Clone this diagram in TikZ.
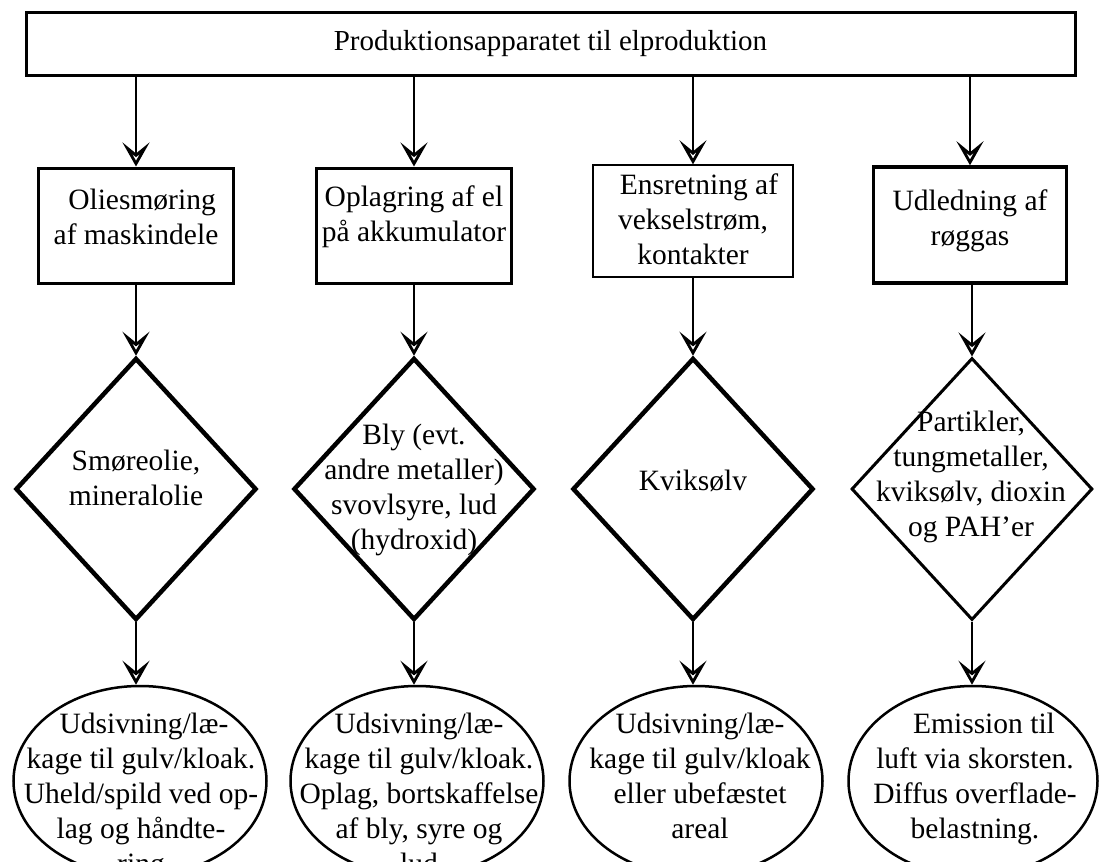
\documentclass[tikz,border=0pt]{standalone}
\usepackage{fontspec}
\setmainfont{Liberation Serif}
\usetikzlibrary{arrows.meta,shapes.geometric}
\begin{document}
\begin{tikzpicture}[x=1pt,y=-1pt,
  txt/.style={font=\fontsize{29.5}{35}\selectfont, align=center, inner sep=0pt},
  headbox/.style={draw, line width=3pt, minimum width=1049pt, minimum height=63pt, inner sep=0pt},
  procbox/.style={draw, line width=3pt, minimum width=195pt, minimum height=115pt, inner sep=0pt},
  thinbox/.style={draw, line width=1.3pt, minimum width=200pt, minimum height=112pt, inner sep=0pt},
  subst/.style={draw, diamond, line width=4.5pt, minimum width=241pt, minimum height=262pt, inner sep=0pt},
  effect/.style={draw, ellipse, line width=2.5pt, minimum width=253pt, minimum height=190pt, inner sep=0pt},
  flow/.style={line width=1.5pt, -{Stealth[open, length=24pt, width=27pt, inset=11pt, line width=2.8pt]}}
]
\useasboundingbox (0,0) rectangle (1101,862);

% top: the plant as a whole
\node[headbox, txt, font=\fontsize{29}{33}\selectfont] (top) at (550.5,43.5) {Produktionsapparatet til elproduktion};

% processes
\node[procbox] (b1) at (136,225.5) {};
\node[procbox] (b2) at (414,225.5) {};
\node[thinbox] (b3) at (693,221) {};
\node[procbox, line width=3.5pt, minimum height=116pt, minimum width=193pt] (b4) at (970,225) {};
\node[txt] (b1t) at (136,217) {\hspace*{12pt}Oliesmøring\\af maskindele};
\node[txt] (b2t) at (414,217) {Oplagring af el\\på akkumulator};
\node[txt] (b3t) at (693,219) {\hspace*{12pt}Ensretning af\\vekselstrøm,\\kontakter};
\node[txt] (b4t) at (970,221) {Udledning af\\røggas};

% substances
\node[subst] (d1) at (136,489) {};
\node[subst] (d2) at (414,489) {};
\node[subst] (d3) at (693,489) {};
\node[subst, line width=3pt] (d4) at (972,489) {};
\node[txt] (d1t) at (136,478) {Smøreolie,\\mineralolie};
\node[txt] (d2t) at (414,490) {Bly (evt.\\andre metaller)\\svovlsyre, lud\\(hydroxid)};
\node[txt] (d3t) at (693,481) {Kviksølv};
\node[txt] (d4t) at (971,477) {Partikler,\\tungmetaller,\\kviksølv, dioxin\\og PAH’er};

% pathways to the environment
\node[effect] (e1) at (140,781) {};
\node[effect] (e2) at (417,781) {};
\node[effect] (e3) at (696,781) {};
\node[effect, minimum width=249pt] (e4) at (973,781) {};
\node[txt, anchor=north] (e1t) at (141,713) {\hspace*{6pt}Udsivning/læ-\\kage til gulv/kloak.\\Uheld/spild ved op-\\lag og håndte-\\ring};
\node[txt, anchor=north] (e2t) at (419,713) {Udsivning/læ-\\kage til gulv/kloak.\\Oplag, bortskaffelse\\af bly, syre og\\lud};
\node[txt, anchor=north] (e3t) at (700,713) {Udsivning/læ-\\kage til gulv/kloak\\eller ubefæstet\\areal};
\node[txt, anchor=north] (e4t) at (975,713) {\hspace*{18pt}Emission til\\luft via skorsten.\\Diffus overflade-\\belastning.};

% connectors
\foreach \i in {1,2,3,4}{
  \draw[flow] (top.south -| b\i) -- (b\i.north);
  \draw[flow] (b\i.south -| d\i) -- (d\i.north);
  \draw[flow] (d\i.south) -- (d\i.south |- e\i.north);
}
\end{tikzpicture}
\end{document}
